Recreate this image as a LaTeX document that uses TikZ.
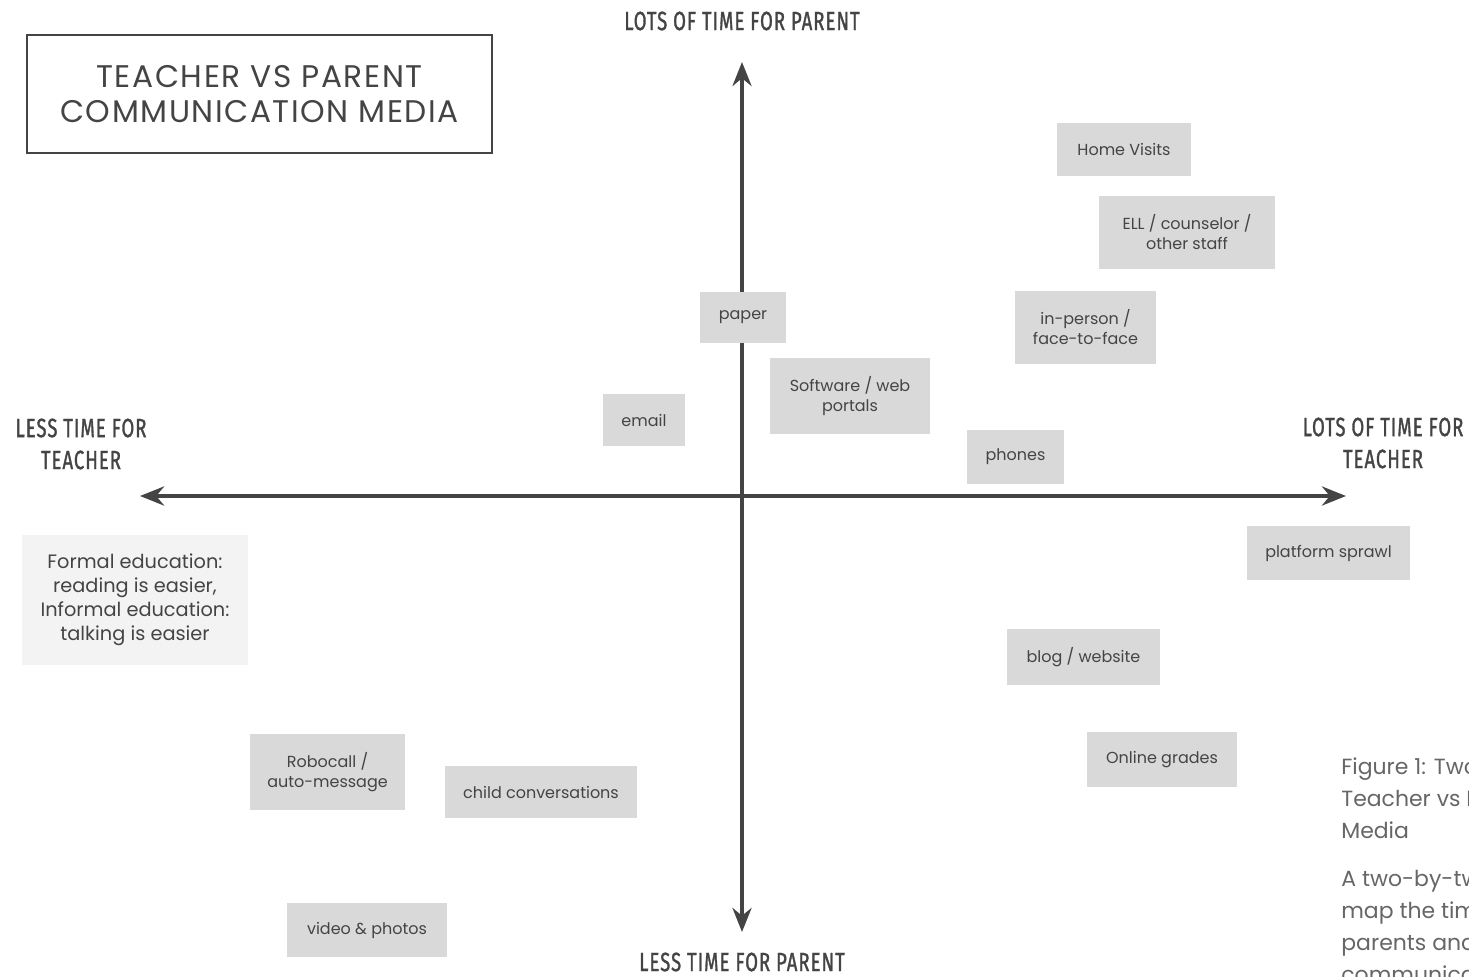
\documentclass[tikz,border=0pt]{standalone}
\usepackage{fontspec}
\setmainfont{Poppins}
\newfontfamily\condfont[FakeStretch=0.7,FakeBold=1.2,LetterSpace=4]{Fira Sans}
\usepackage{xcolor}
\usetikzlibrary{arrows.meta}
\definecolor{ink}{HTML}{444444}
\definecolor{boxgray}{HTML}{D9D9D9}
\definecolor{palegray}{HTML}{F3F3F3}
\definecolor{capgray}{HTML}{666666}

\begin{document}
\begin{tikzpicture}[
  x=0.02cm, y=-0.02cm,
  medium/.style={fill=boxgray, text=ink, align=center, inner sep=0pt,
                 font=\fontsize{9.1}{11.4}\selectfont},
  note/.style={fill=palegray, text=ink, align=center, inner sep=0pt,
               font=\fontsize{11}{13.7}\selectfont},
  axis/.style={draw=ink, line width=2.3pt,
               {Stealth[length=4.8mm, width=3.8mm]}-{Stealth[length=4.8mm, width=3.8mm]}},
  axislab/.style={text=ink, align=center, inner sep=0pt,
                  font=\condfont\fontsize{15}{18.2}\selectfont},
  caption/.style={text=capgray, align=left, anchor=north west, inner sep=0pt,
                  font=\fontsize{12.5}{18.2}\selectfont}
]
\useasboundingbox (0,0) rectangle (1469,976);

% title
\node[draw=ink, line width=1.1pt, minimum width=9.3cm, minimum height=2.36cm,
      text=ink, align=center, font=\fontsize{17.8}{20}\addfontfeatures{LetterSpace=5}\selectfont]
      (title) at (259.5,94) {TEACHER VS PARENT\\COMMUNICATION MEDIA};

% axes
\coordinate (top) at (742,62);
\coordinate (bottom) at (742,932);
\coordinate (left) at (140,496);
\coordinate (right) at (1346,496);
\draw[axis] (bottom) -- (top);
\draw[axis] (left) -- (right);

\node[axislab] (parentlots) at (742,21) {LOTS OF TIME FOR PARENT};
\node[axislab] (parentless) at (742,962) {LESS TIME FOR PARENT};
\node[axislab] (teacherless) at (81,444) {LESS TIME FOR\\TEACHER};
\node[axislab] (teacherlots) at (1383,443) {LOTS OF TIME FOR\\TEACHER};

% media
\node[medium, minimum width=2.68cm, minimum height=1.06cm] (visits) at (1124,149.5) {Home Visits};
\node[medium, minimum width=3.52cm, minimum height=1.46cm] (staff) at (1187,232.5) {ELL / counselor /\\other staff};
\node[medium, minimum width=2.82cm, minimum height=1.46cm] (inperson) at (1085.5,327.5) {in-person /\\face-to-face};
\node[medium, minimum width=1.72cm, minimum height=1.02cm] (paper) at (743,317.5) {paper};
\node[medium, minimum width=3.2cm, minimum height=1.52cm] (portals) at (850,396) {Software / web\\portals};
\node[medium, minimum width=1.64cm, minimum height=1.04cm] (email) at (644,420) {email};
\node[medium, minimum width=1.94cm, minimum height=1.08cm] (phones) at (1015.5,457) {phones};
\node[medium, minimum width=3.26cm, minimum height=1.08cm] (sprawl) at (1328.5,553) {platform sprawl};
\node[medium, minimum width=3.06cm, minimum height=1.12cm] (blog) at (1083.5,657) {blog / website};
\node[medium, minimum width=3.0cm, minimum height=1.1cm] (grades) at (1162,759.5) {Online grades};
\node[medium, minimum width=3.1cm, minimum height=1.52cm] (robocall) at (327.5,772) {Robocall /\\auto-message};
\node[medium, minimum width=3.84cm, minimum height=1.04cm] (child) at (541,792) {child conversations};
\node[medium, minimum width=3.2cm, minimum height=1.08cm] (video) at (367,930) {video \& photos};

\node[note, minimum width=4.52cm, minimum height=2.6cm] (formal) at (135,600)
  {Formal education:\\reading is easier,\\Informal education:\\talking is easier};

% caption, cut by the page edge
\begin{scope}
\clip (0,0) rectangle (1469,976);
\node[caption] (figtitle) at (1341,757) {Figure 1: Two-by-two of\\Teacher vs Parent Communication\\Media};
\node[caption] (figtext) at (1341,869) {A two-by-two grid to\\map the time teachers,\\parents and students spend on\\communication media};
\end{scope}
\end{tikzpicture}
\end{document}
